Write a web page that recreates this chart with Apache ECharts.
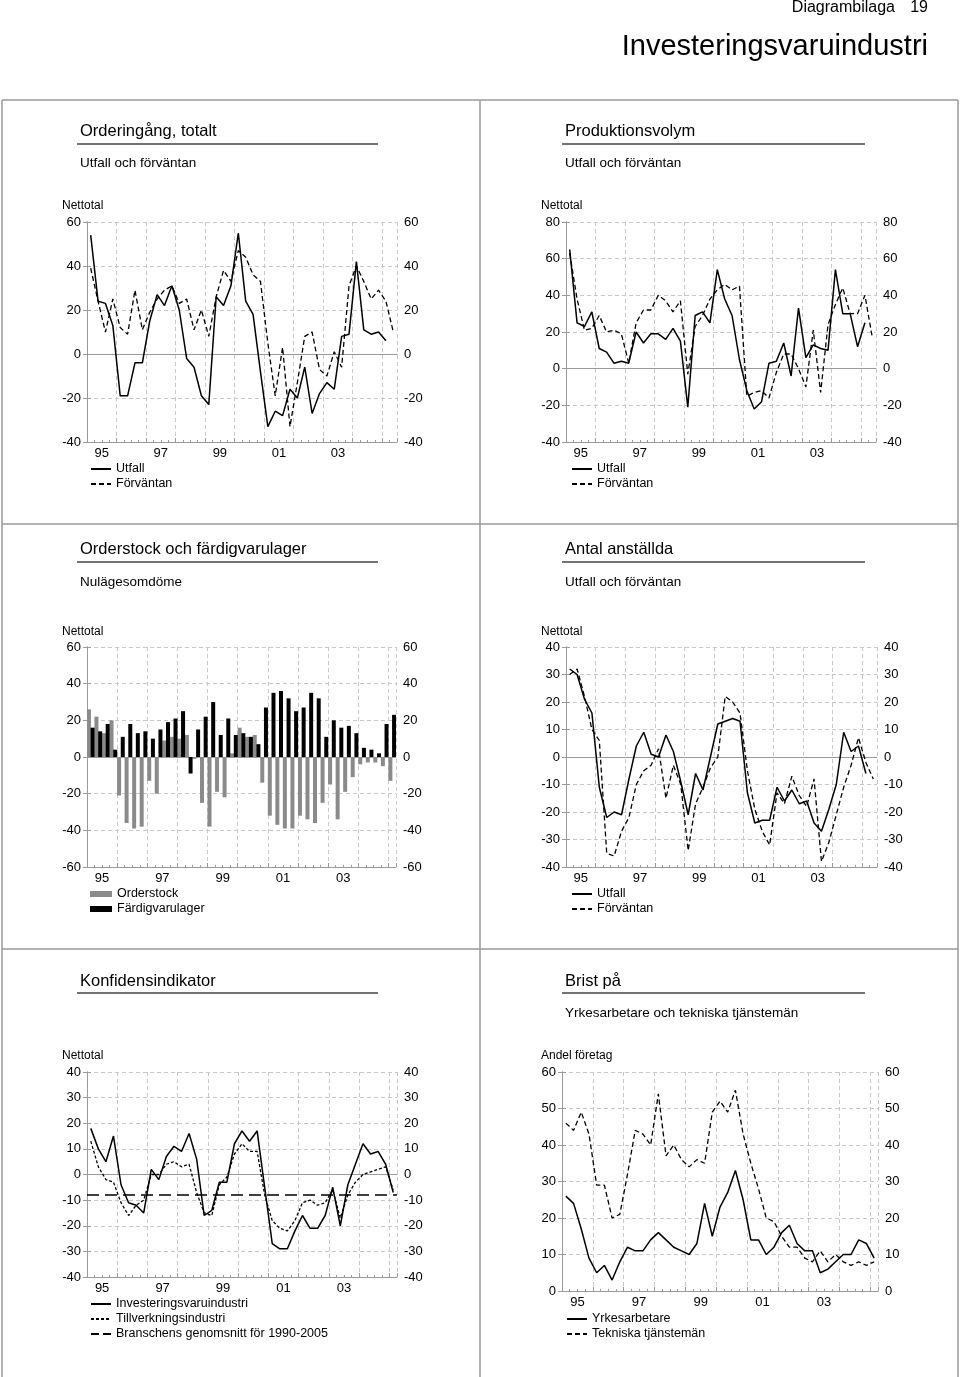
<!DOCTYPE html>
<html><head><meta charset="utf-8">
<script src="https://cdn.jsdelivr.net/npm/echarts@6/dist/echarts.min.js"></script>
<style>html,body{margin:0;padding:0;background:#fff}#c{width:960px;height:1377px}</style>
</head><body><div id="c"></div>
<script>
const FONT = '"Liberation Sans", Arial, sans-serif';
const quarters = ['1995Q1','1995Q2','1995Q3','1995Q4','1996Q1','1996Q2','1996Q3','1996Q4','1997Q1','1997Q2','1997Q3','1997Q4','1998Q1','1998Q2','1998Q3','1998Q4','1999Q1','1999Q2','1999Q3','1999Q4','2000Q1','2000Q2','2000Q3','2000Q4','2001Q1','2001Q2','2001Q3','2001Q4','2002Q1','2002Q2','2002Q3','2002Q4','2003Q1','2003Q2','2003Q3','2003Q4','2004Q1','2004Q2','2004Q3','2004Q4','2005Q1','2005Q2'];
const yearLabels = ['95','97','99','01','03'];

const ordUtfall = [54,24,23,13,-19,-19,-4,-4,15,27,22,31,20,-2,-6,-19,-23,26,22,31,55,24,18,-8,-33,-26,-28,-16,-20,-6,-27,-18,-13,-16,8,9,42,11,9,10,6];
const ordForv = [39,24,10,25,12,9,29,11,19,25,29,31,23,25,11,20,8,26,38,33,47,44,36,33,5,-19,3,-33,-13,8,10,-7,-10,1,-6,31,40,33,25,29,24,10];
const prodUtfall = [65,25,23,31,11,9,3,4,3,20,14,19,19,16,22,15,-21,29,31,25,54,38,29,5,-12,-22,-18,3,4,14,-4,33,6,13,11,10,54,30,30,12,25];
const prodForv = [63,38,21,22,29,20,21,19,3,25,32,32,40,37,31,37,-3,23,29,38,43,46,43,45,-15,-13,-12,-16,-2,8,8,0,-10,21,-13,24,35,44,30,30,40,17];
const orderstock = [26,22,13,20,-21,-36,-39,-38,-13,-20,9,11,10,12,-1,-25,-38,-19,-22,2,16,11,12,-14,-32,-37,-39,-39,-32,-34,-36,-25,-15,-34,-19,-11,-4,-3,-3,-5,-13];
const fardigvarulager = [16,14,18,4,11,18,13,14,10,15,19,21,25,-9,15,22,30,12,21,12,13,11,7,27,35,36,32,25,27,35,32,11,20,16,17,13,5,4,2,18,23];
const anstUtfall = [32,30,21,16,-11,-22,-20,-21,-8,4,9,1,0,8,2,-9,-21,-6,-12,0,12,13,14,13,-13,-24,-23,-23,-11,-16,-12,-17,-16,-24,-27,-19,-10,9,2,4,-6];
const anstForv = [30,32,22,10,6,-35,-36,-27,-22,-10,-5,-3,3,-15,-3,-10,-34,-17,-11,-4,0,22,20,16,-5,-19,-27,-32,-13,-17,-7,-14,-18,-8,-38,-31,-21,-11,-3,7,-2,-8];
const konfInvest = [18,10,5,15,-4,-11,-12,-15,2,-2,7,11,9,16,6,-16,-14,-3,-3,12,17,13,17,-5,-27,-29,-29,-22,-16,-21,-21,-16,-5,-20,-4,4,12,8,9,4,-7];
const konfTillv = [13,3,-2,-3,-11,-16,-12,-10,0,0,4,5,3,4,-7,-15,-16,-4,-1,8,12,9,9,-8,-18,-21,-22,-18,-11,-10,-12,-11,-6,-17,-8,-3,0,1,2,3,-6];
const branschGenomsnitt = -8;
const bristYrke = [26,24,17,9,5,7,3,8,12,11,11,14,16,14,12,11,10,13,24,15,23,27,33,25,14,14,10,12,16,18,13,11,11,5,6,8,10,10,14,13,9];
const bristTekn = [46,44,49,43,29,29,20,21,32,44,43,40,54,37,40,36,34,36,35,49,52,49,55,43,35,28,20,19,15,12,12,9,8,11,8,10,8,7,8,7,8];

const AX = '#9a9a9a', GRIDC = '#c8c8c8';
const grids = [
  {left:87, right:563, top:222, bottom:935},
  {left:566, right:84, top:222, bottom:935},
  {left:87, right:564, top:647, bottom:510},
  {left:566, right:83, top:647, bottom:510},
  {left:87, right:563, top:1072, bottom:100},
  {left:562, right:82, top:1072, bottom:86}
];
const panelDefs = [
  {n:42, min:-40, max:60, iv:20},
  {n:42, min:-40, max:80, iv:20},
  {n:41, min:-60, max:60, iv:20},
  {n:42, min:-40, max:40, iv:10},
  {n:41, min:-40, max:40, iv:10},
  {n:41, min:0, max:60, iv:10}
];
const xAxes = [], yAxes = [];
panelDefs.forEach((p, g) => {
  xAxes.push({gridIndex:g, type:'value', min:0, max:p.n, interval:4, position:'bottom',
    axisLine:{onZero:false, lineStyle:{color:AX, width:1}},
    axisTick:{show:true, inside:true, length:4, lineStyle:{color:AX}},
    minorTick:{show:true, splitNumber:4, length:2, lineStyle:{color:AX}},
    axisLabel:{show:false},
    splitLine:{show:true, lineStyle:{type:[4,3], color:GRIDC, width:1}}});
  xAxes.push({gridIndex:g, type:'value', min:0, max:p.n, interval:2, position:'bottom',
    axisLine:{show:false}, axisTick:{show:false}, splitLine:{show:false},
    axisLabel:{show:true, margin:5, color:'#000', fontSize:13, fontFamily:FONT, hideOverlap:false,
      showMinLabel:true, showMaxLabel:true,
      formatter:(v)=>{ const k=(v-2)/8; return (Number.isInteger(k) && k>=0 && k<yearLabels.length) ? yearLabels[k] : ''; }}});
  xAxes.push({gridIndex:g, type:'category', data:quarters.slice(0,p.n), boundaryGap:true, position:'bottom',
    axisLine:{show:true, onZero:true, lineStyle:{color:AX, width:1}},
    axisTick:{show:false}, axisLabel:{show:false}, splitLine:{show:false}});
  yAxes.push({gridIndex:g, type:'value', min:p.min, max:p.max, interval:p.iv, position:'left',
    axisLine:{show:true, lineStyle:{color:AX}}, axisTick:{show:true, length:4, lineStyle:{color:AX}},
    axisLabel:{margin:6, color:'#000', fontSize:13, fontFamily:FONT},
    splitLine:{show:true, lineStyle:{type:[4,3], color:GRIDC}}});
  yAxes.push({gridIndex:g, type:'value', min:p.min, max:p.max, interval:p.iv, position:'right',
    axisLine:{show:true, lineStyle:{color:AX}}, axisTick:{show:true, length:4, lineStyle:{color:AX}},
    axisLabel:{margin:7, color:'#000', fontSize:13, fontFamily:FONT},
    splitLine:{show:false}});
});

function lineS(g, name, data, dashed, extra) {
  return Object.assign({type:'line', name, data, xAxisIndex:g*3+2, yAxisIndex:g*2,
    symbol:'none', showSymbol:false, animation:false,
    lineStyle:{color:'#000', width: dashed ? 1.3 : 1.5, type: dashed ? dashed : 'solid'},
    itemStyle:{color:'#000'}}, extra||{});
}
const DASH = [5,3];
const series = [
  lineS(0,'Förväntan',ordForv,DASH), lineS(0,'Utfall',ordUtfall,null),
  lineS(1,'Förväntan',prodForv,DASH), lineS(1,'Utfall',prodUtfall,null),
  {type:'bar', name:'Orderstock', data:orderstock, xAxisIndex:8, yAxisIndex:4, barWidth:4, barGap:'-8%',
    itemStyle:{color:'#8a8a8a'}, animation:false},
  {type:'bar', name:'Färdigvarulager', data:fardigvarulager, xAxisIndex:8, yAxisIndex:4, barWidth:4, barGap:'-8%',
    itemStyle:{color:'#000'}, animation:false},
  lineS(3,'Förväntan',anstForv,DASH), lineS(3,'Utfall',anstUtfall,null),
  lineS(4,'Tillverkningsindustri',konfTillv,[3,2]), lineS(4,'Investeringsvaruindustri',konfInvest,null),
  lineS(4,'Branschens genomsnitt för 1990-2005',[], [10,5], {
    lineStyle:{color:'#000', width:1.5, type:[8,4]},
    markLine:{symbol:'none', silent:true, animation:false, label:{show:false},
      lineStyle:{color:'#000', width:1.5, type:[12,6]}, data:[{yAxis:branschGenomsnitt}]}}),
  lineS(5,'Tekniska tjänstemän',bristTekn,DASH), lineS(5,'Yrkesarbetare',bristYrke,null)
];

function legend(left, top, names, bar) {
  const o = {left, top, orient:'vertical', itemGap:1, itemWidth: bar ? 22 : 20, itemHeight: bar ? 6 : 10,
    selectedMode:false, data:names, padding:0,
    textStyle:{color:'#000', fontSize:12.5, fontFamily:FONT, lineHeight:14, padding:[0,0,0,0]}};
  if (bar) o.icon = 'rect'; else o.itemStyle = {opacity:0};
  return o;
}
const legends = [
  legend(90, 462, ['Utfall','Förväntan']),
  legend(571, 462, ['Utfall','Förväntan']),
  legend(90, 887, ['Orderstock','Färdigvarulager'], true),
  legend(571, 887, ['Utfall','Förväntan']),
  legend(90, 1297, ['Investeringsvaruindustri','Tillverkningsindustri','Branschens genomsnitt för 1990-2005']),
  legend(566, 1312, ['Yrkesarbetare','Tekniska tjänstemän'])
];

function T(text, x, y, size, align) {
  return {type:'text', silent:true, style:{text, x, y, fill:'#000', font: size+'px '+FONT,
    textAlign: align||'left', textVerticalAlign:'middle'}};
}
function L(x1,y1,x2,y2,c,w) {
  return {type:'line', silent:true, shape:{x1,y1,x2,y2}, style:{stroke:c||'#999', lineWidth:w||1.5}};
}
const graphic = [
  T('Diagrambilaga', 895, 8, 16, 'right'), T('19', 928, 8, 16, 'right'),
  T('Investeringsvaruindustri', 928, 47, 29, 'right'),
  L(2,100,958,100), L(2,100,2,1377), L(958,100,958,1377), L(480,100,480,1377),
  L(2,524,958,524), L(2,949,958,949),
  T('Orderingång, totalt', 80, 131, 16.5), L(77,144,378,144,'#444',1.5), T('Utfall och förväntan', 80, 163, 13.5),
  T('Produktionsvolym', 565, 131, 16.5), L(562,144,865,144,'#444',1.5), T('Utfall och förväntan', 565, 163, 13.5),
  T('Nettotal', 62, 206, 12), T('Nettotal', 541, 206, 12),
  T('Orderstock och färdigvarulager', 80, 549, 16.5), L(77,562,378,562,'#444',1.5), T('Nulägesomdöme', 80, 582, 13.5),
  T('Antal anställda', 565, 549, 16.5), L(562,562,865,562,'#444',1.5), T('Utfall och förväntan', 565, 582, 13.5),
  T('Nettotal', 62, 632, 12), T('Nettotal', 541, 632, 12),
  T('Konfidensindikator', 80, 981, 16.5), L(77,993,378,993,'#444',1.5),
  T('Brist på', 565, 981, 16.5), L(562,993,865,993,'#444',1.5), T('Yrkesarbetare och tekniska tjänstemän', 565, 1013, 13.5),
  T('Nettotal', 62, 1056, 12), T('Andel företag', 541, 1056, 12)
];

const chart = echarts.init(document.getElementById('c'), null, {renderer:'canvas'});
chart.setOption({
  backgroundColor:'#fff', animation:false,
  grid: grids, xAxis: xAxes, yAxis: yAxes, series, legend: legends, graphic
});
</script></body></html>
